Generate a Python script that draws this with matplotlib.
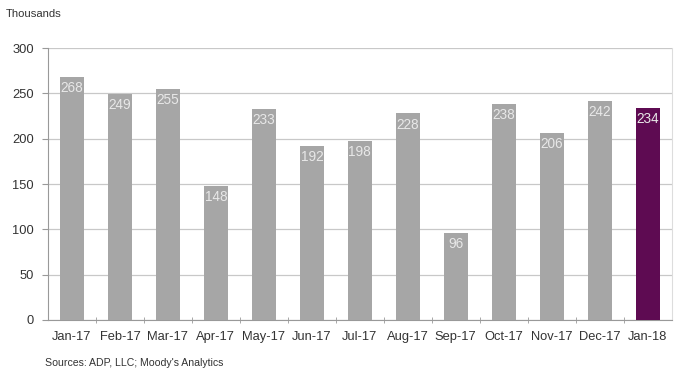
import matplotlib.pyplot as plt

plt.rcParams['font.family'] = ['Liberation Sans', 'DejaVu Sans']

meses   = ["Jan-17", "Feb-17", "Mar-17", "Apr-17", "May-17", "Jun-17", "Jul-17",
           "Aug-17", "Sep-17", "Oct-17", "Nov-17", "Dec-17", "Jan-18"]
valores = [268, 249, 255, 148, 233, 192, 198, 228, 96, 238, 206, 242, 234]
CINZA, ROXO, GRADE = "#a6a6a6", "#5e0b52", "#c8c8c8"

fig = plt.figure(figsize=(6.8, 3.79), dpi=100)
ax = fig.add_axes([0.0706, 0.156, 0.917, 0.717])

cores = [CINZA] * (len(valores) - 1) + [ROXO]
x = range(len(valores))
barras = ax.bar(x, valores, width=0.5, color=cores, zorder=3)
for b, v in zip(barras, valores):
    ax.annotate(str(v), (b.get_x() + b.get_width() / 2, v), xytext=(0, -3),
                textcoords="offset points", ha="center", va="top",
                color="#e8e8e8", fontsize=9.8, zorder=4)

ax.set_xlim(-0.5, len(valores) - 0.5)
ax.set_ylim(0, 300)
ax.set_yticks(range(0, 301, 50))
ax.set_xticks(x)
ax.set_xticklabels(meses)
ax.set_xticks([i + 0.5 for i in range(len(valores) - 1)], minor=True)
ax.tick_params(axis="x", which="major", length=0, pad=8, labelsize=9.3, colors="#333333")
ax.tick_params(axis="x", which="minor", length=4, direction="inout", color="#999999")
ax.tick_params(axis="y", length=4, color="#999999", labelsize=9.3, labelcolor="#333333", pad=6)
ax.grid(axis="y", color=GRADE, lw=0.9, zorder=0)
for lado in ["left", "bottom"]:
    ax.spines[lado].set_color("#999999")
ax.spines["top"].set_visible(False)
ax.spines["right"].set_color("#dddddd")

fig.text(0.009, 0.963, "Thousands", fontsize=8.1, color="#333333", va="center")
fig.text(0.066, 0.042, "Sources: ADP, LLC; Moody's Analytics", fontsize=7.6, color="#333333", va="center")

fig.savefig("out.png", dpi=100)
